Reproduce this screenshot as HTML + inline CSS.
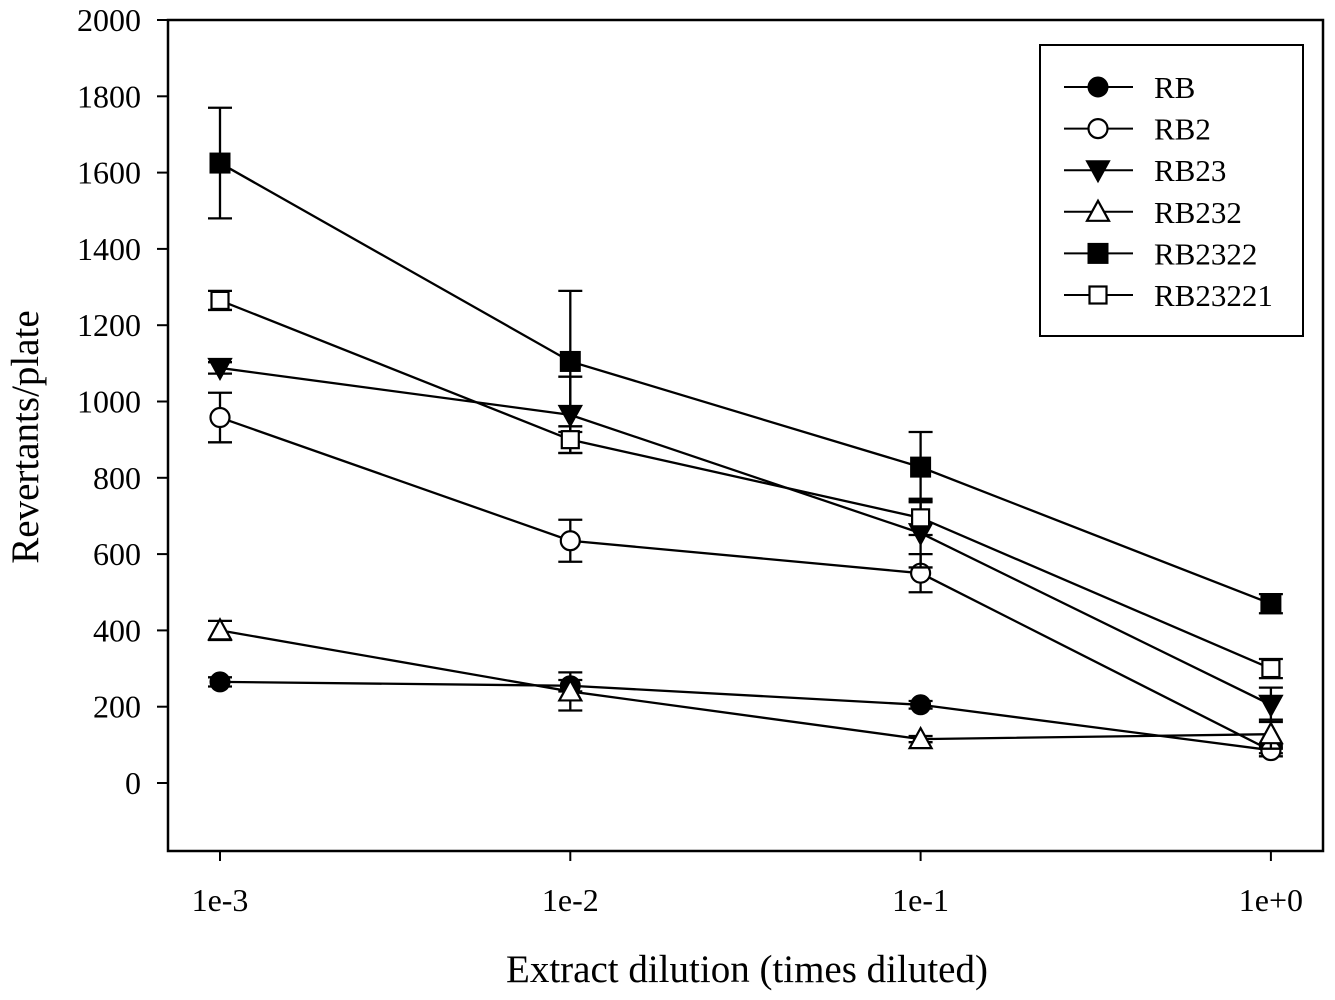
<!DOCTYPE html>
<html><head><meta charset="utf-8"><style>
body{margin:0;background:#fff}
svg{display:block;font-family:"Liberation Serif",serif}
</style></head><body>
<svg id="chart" width="1335" height="1000" viewBox="0 0 1335 1000"></svg>
<script>
const categories=["1e-3","1e-2","1e-1","1e+0"];
const xExp=[-3,-2,-1,0];
const yTicks=[0,200,400,600,800,1000,1200,1400,1600,1800,2000];
const seriesNames=["RB","RB2","RB23","RB232","RB2322","RB23221"];
const rbVals=[265,255,205,86];
const rbErr=[12,15,10,8];
const rb2Vals=[958,635,550,85];
const rb2Err=[65,55,50,15];
const rb23Vals=[1088,965,655,205];
const rb23Err=[15,100,90,45];
const rb232Vals=[400,240,115,128];
const rb232Err=[25,50,8,38];
const rb2322Vals=[1625,1105,828,470];
const rb2322Err=[145,185,92,25];
const rb23221Vals=[1265,900,695,300];
const rb23221Err=[25,35,45,25];

const NS="http://www.w3.org/2000/svg";
const svg=document.getElementById('chart');
const L=168,R=1323,T=20,B=851;
const x=e=>220+(e+3)*350.3;
const y=v=>783-v*0.3815;
function mk(tag,attrs,parent){const el=document.createElementNS(NS,tag);for(const k in attrs)el.setAttribute(k,attrs[k]);(parent||svg).appendChild(el);return el;}

const frame=mk('rect',{x:L,y:T,width:R-L,height:B-T,fill:'none',stroke:'#000','stroke-width':2.5});



yTicks.forEach(t=>{
  const ln=mk('line',{x1:157,x2:L,y1:y(t),y2:y(t),stroke:'#000','stroke-width':2});
  
  
  const tx=mk('text',{x:141,y:y(t)+11,'text-anchor':'end','font-size':32});
  tx.textContent=t;
  
  
});
categories.forEach((c,i)=>{
  const xx=x(xExp[i]);
  const ln=mk('line',{x1:xx,x2:xx,y1:B,y2:861,stroke:'#000','stroke-width':2});
  
  
  const tx=mk('text',{x:xx,y:911,'text-anchor':'middle','font-size':32});
  tx.textContent=c;
  
  
});
const xt=mk('text',{x:747,y:982,'text-anchor':'middle','font-size':39});
xt.textContent='Extract dilution (times diluted)';


const yt=mk('text',{x:0,y:0,'text-anchor':'middle','font-size':39,transform:'translate(38,437) rotate(-90)'});
yt.textContent='Revertants/plate';



function marker(kind,cx,cy,parent){
  const s={fill:'#000',stroke:'#000','stroke-width':2};
  const o={fill:'#fff',stroke:'#000','stroke-width':2.2};
  if(kind==0)return mk('circle',Object.assign({cx,cy,r:9.5},s),parent);
  if(kind==1)return mk('circle',Object.assign({cx,cy,r:9.5},o),parent);
  if(kind==2)return mk('polygon',Object.assign({points:`${cx-11},${cy-9} ${cx+11},${cy-9} ${cx},${cy+11}`},s),parent);
  if(kind==3)return mk('polygon',Object.assign({points:`${cx-11},${cy+9} ${cx+11},${cy+9} ${cx},${cy-11}`},o),parent);
  if(kind==4)return mk('rect',Object.assign({x:cx-9.5,y:cy-9.5,width:19,height:19},s),parent);
  return mk('rect',Object.assign({x:cx-8.5,y:cy-8.5,width:17,height:17},o),parent);
}
const vals=[rbVals,rb2Vals,rb23Vals,rb232Vals,rb2322Vals,rb23221Vals];
const errs=[rbErr,rb2Err,rb23Err,rb232Err,rb2322Err,rb23221Err];
vals.forEach((vs,si)=>{
  const g=mk('g',{});
  
  
  const pts=vs.map((v,i)=>x(xExp[i])+','+y(v)).join(' ');
  const pl=mk('polyline',{points:pts,fill:'none',stroke:'#000','stroke-width':2.3},g);
  
  
  vs.forEach((v,i)=>{
    const xx=x(xExp[i]),e=errs[si][i];
    const eb=mk('path',{d:`M${xx},${y(v+e)}V${y(v-e)}M${xx-12},${y(v+e)}H${xx+12}M${xx-12},${y(v-e)}H${xx+12}`,stroke:'#000','stroke-width':2.3,fill:'none'},g);
    
    
    const m=marker(si,xx,y(v),g);
    
    
  });
});

const lg=mk('g',{});


mk('rect',{x:1040,y:45,width:263,height:291,fill:'#fff',stroke:'#000','stroke-width':2},lg);
seriesNames.forEach((n,i)=>{
  const ly=87+i*41.6;
  const e=mk('g',{},lg);
  
  
  mk('line',{x1:1064,x2:1133,y1:ly,y2:ly,stroke:'#000','stroke-width':2},e);
  marker(i,1098,ly,e);
  const t=mk('text',{x:1154,y:ly+11,'font-size':31},e);
  t.textContent=n;
});
</script>
</body></html>
